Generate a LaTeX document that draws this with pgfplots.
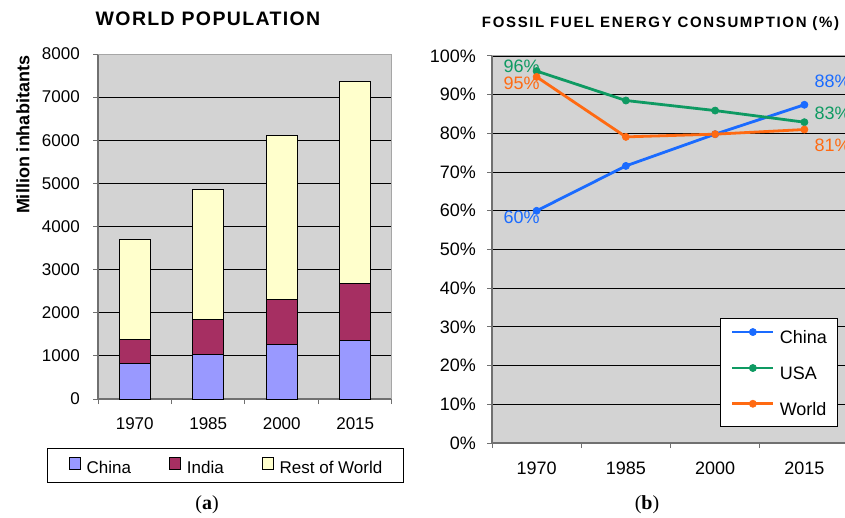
\documentclass[border=0pt]{standalone}
\usepackage{fontspec}
\setsansfont{Liberation Sans}
\newfontfamily\capfont{Liberation Serif}
\usepackage{pgfplots}
\pgfplotsset{compat=1.18}
\pgfplotsset{/pgf/number format/assume math mode=true}

\definecolor{plotbg}{HTML}{D3D3D3}
\definecolor{chinabar}{HTML}{9999FF}
\definecolor{indiabar}{HTML}{A62F62}
\definecolor{restbar}{HTML}{FFFFCC}
\definecolor{cblue}{HTML}{1A6BFF}
\definecolor{cgreen}{HTML}{0E9A62}
\definecolor{corange}{HTML}{FF6A12}
\definecolor{axgray}{HTML}{707070}

\begin{document}
\begin{tikzpicture}

% ---------------- (a) World population ----------------
\begin{axis}[
  at={(98pt,118pt)}, anchor=south west,
  scale only axis, width=294pt, height=345pt,
  ybar stacked, bar width=31pt,
  every axis plot post/.append style={
    legend image code/.code={\draw[##1] (0pt,-1.5pt) rectangle (11pt,10.5pt);}},
  xmin=-0.5, xmax=3.5, ymin=0, ymax=8000,
  axis background/.style={fill=plotbg},
  axis lines*=left,
  axis line style={draw=axgray, line width=1.3pt},
  ytick={0,1000,...,8000},
  /pgf/number format/1000 sep={},
  ymajorgrids, grid style={black, line width=0.9pt},
  xtick={-0.5,0.5,1.5,2.5,3.5}, xticklabels={},
  extra x ticks={0,1,2,3}, extra x tick labels={1970,1985,2000,2015},
  extra x tick style={major tick length=0pt},
  tick align=outside, major tick length=5pt,
  tick style={draw=axgray, line width=1pt},
  tick label style={font=\sffamily\fontsize{17}{20}\selectfont, inner sep=0pt},
  yticklabel style={xshift=-13pt},
  xticklabel style={yshift=-18.5pt},
  legend columns=3,
  legend style={at={(0.4337,-0.193)}, anchor=center, draw=black, line width=0.9pt,
    fill=white, inner xsep=21pt, inner ysep=8pt,
    font=\sffamily\fontsize{17}{20}\selectfont,
    nodes={inner sep=0pt},
    /tikz/every odd column/.append style={column sep=6pt},
    /tikz/every even column/.append style={column sep=38pt}},
  legend cell align=left,
]
\addplot[fill=chinabar, draw=black, line width=0.9pt] coordinates {(0,820) (1,1040) (2,1265) (3,1365)};
\addlegendentry{China}
\addplot[fill=indiabar, draw=black, line width=0.9pt] coordinates {(0,550) (1,795) (2,1050) (3,1310)};
\addlegendentry{India}
\addplot[fill=restbar, draw=black, line width=0.9pt] coordinates {(0,2320) (1,3015) (2,3805) (3,4685)};
\addlegendentry{Rest of World}
\draw[gray!70, line width=1pt] (rel axis cs:0,1) -- (rel axis cs:1,1) -- (rel axis cs:1,0);
\end{axis}

\node[font=\sffamily\bfseries\fontsize{19.5}{22}\selectfont\addfontfeature{LetterSpace=7}, anchor=base, inner sep=0pt] at (208pt,491.3pt) {WORLD POPULATION};
\node[font=\sffamily\bfseries\fontsize{18}{22}\selectfont, anchor=base, rotate=90, inner sep=0pt] at (29.3pt,382pt) {Million inhabitants};
\node[font=\capfont\fontsize{20}{24}\selectfont, anchor=base, inner sep=0pt] at (207pt,8pt) {(\textbf{a})};

% ---------------- (b) Fossil fuel ----------------
\begin{axis}[
  at={(492pt,74pt)}, anchor=south west,
  scale only axis, width=357pt, height=387pt,
  xmin=-0.5, xmax=3.5, ymin=0, ymax=100,
  axis background/.style={fill=plotbg},
  axis lines*=left,
  axis line style={draw=axgray, line width=1.3pt},
  ytick={0,10,...,100},
  yticklabel={\pgfmathprintnumber{\tick}\%},
  ymajorgrids, grid style={black, line width=0.9pt},
  xtick={-0.5,0.5,1.5,2.5,3.5}, xticklabels={},
  extra x ticks={0,1,2,3}, extra x tick labels={1970,1985,2000,2015},
  extra x tick style={major tick length=0pt},
  tick align=outside, major tick length=5pt,
  tick style={draw=axgray, line width=1pt},
  tick label style={font=\sffamily\fontsize{18}{21}\selectfont, inner sep=0pt},
  yticklabel style={xshift=-11pt},
  xticklabel style={yshift=-19pt},
  legend style={at={(0.6387,0.323)}, anchor=north west, draw=black, line width=0.9pt,
    fill=white, inner xsep=10.5pt, inner ysep=10pt, row sep=19.4pt,
    font=\sffamily\fontsize{18}{21}\selectfont,
    nodes={inner sep=0pt},
    /tikz/every odd column/.append style={column sep=5pt}},
  legend cell align=left,
  legend image code/.code={\draw[mark repeat=2, mark phase=2, #1] plot coordinates {(0pt,5.7pt) (20.5pt,5.7pt) (41pt,5.7pt)};},
  nodes near coords style={font=\sffamily\fontsize{18}{21}\selectfont, inner sep=0pt},
]
\addplot[cblue, line width=2.8pt, mark=*, mark size=3.6pt, mark options={solid, line width=0.6pt}] coordinates {(0,60.0) (1,71.6) (2,79.8) (3,87.4)};
\addlegendentry{China}
\addplot[cgreen, line width=2.8pt, mark=*, mark size=3.6pt, mark options={solid, line width=0.6pt}] coordinates {(0,96.1) (1,88.5) (2,85.9) (3,82.9)};
\addlegendentry{USA}
\addplot[corange, line width=2.8pt, mark=*, mark size=3.6pt, mark options={solid, line width=0.6pt}] coordinates {(0,94.6) (1,79.1) (2,79.8) (3,81.0)};
\addlegendentry{World}

% data labels
\addplot[draw=none, forget plot, point meta=y,
  nodes near coords={\pgfmathprintnumber[fixed,precision=0]{\pgfplotspointmeta}\%},
  nodes near coords style={text=cblue, anchor=center, xshift=-15pt, yshift=-7pt}] coordinates {(0,60.0)};
\addplot[draw=none, forget plot, point meta=y,
  nodes near coords={\pgfmathprintnumber[fixed,precision=0]{\pgfplotspointmeta}\%},
  nodes near coords style={text=cblue, anchor=west, xshift=10pt, yshift=23pt}] coordinates {(3,87.6)};
\addplot[draw=none, forget plot, point meta=y,
  nodes near coords={\pgfmathprintnumber[fixed,precision=0]{\pgfplotspointmeta}\%},
  nodes near coords style={text=cgreen, anchor=center, xshift=-15pt, yshift=5pt}] coordinates {(0,96.1)};
\addplot[draw=none, forget plot, point meta=y,
  nodes near coords={\pgfmathprintnumber[fixed,precision=0]{\pgfplotspointmeta}\%},
  nodes near coords style={text=cgreen, anchor=west, xshift=10pt, yshift=9pt}] coordinates {(3,82.9)};
\addplot[draw=none, forget plot, point meta=y,
  nodes near coords={\pgfmathprintnumber[fixed,precision=0]{\pgfplotspointmeta}\%},
  nodes near coords style={text=corange, anchor=center, xshift=-15pt, yshift=-6pt}] coordinates {(0,94.6)};
\addplot[draw=none, forget plot, point meta=y,
  nodes near coords={\pgfmathprintnumber[fixed,precision=0]{\pgfplotspointmeta}\%},
  nodes near coords style={text=corange, anchor=west, xshift=10pt, yshift=-16pt}] coordinates {(3,81.0)};
\draw[gray!70, line width=1pt] (rel axis cs:0,1) -- (rel axis cs:1,1);
\end{axis}

\node[font=\sffamily\bfseries\fontsize{15}{18}\selectfont\addfontfeature{LetterSpace=11}, anchor=base, inner sep=0pt] at (660.5pt,489.3pt) {FOSSIL FUEL ENERGY CONSUMPTION (\%)};
\node[font=\capfont\fontsize{20}{24}\selectfont, anchor=base, inner sep=0pt] at (647pt,8pt) {(\textbf{b})};

\pgfresetboundingbox
\path[use as bounding box] (0pt,0pt) rectangle (845pt,517pt);
\end{tikzpicture}
\end{document}
